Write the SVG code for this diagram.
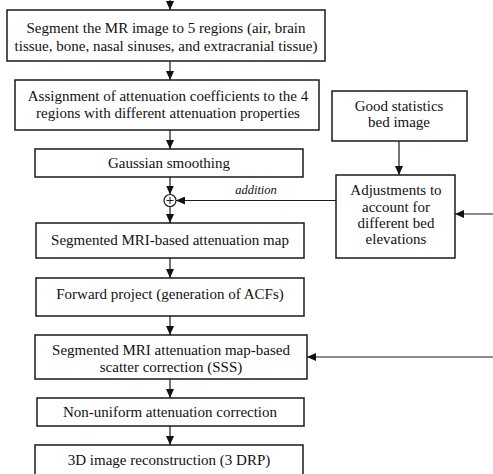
<svg xmlns="http://www.w3.org/2000/svg" width="493" height="474" viewBox="0 0 493 474">
<defs>
<marker id="ah" markerUnits="userSpaceOnUse" markerWidth="10" markerHeight="8" refX="9" refY="4" orient="auto">
<path d="M0,0 L9,4 L0,8 Z" fill="#111"/>
</marker>
<style>
.box{fill:#fff;stroke:#1a1a1a;stroke-width:1.5}
.t{font-family:'Liberation Serif','Times New Roman',serif;font-size:15px;fill:#111;text-anchor:middle}
.c{stroke:#1a1a1a;stroke-width:1.2;fill:none}
.a{marker-end:url(#ah)}
.it{font-family:'Liberation Serif','Times New Roman',serif;font-size:12.5px;font-style:italic;fill:#111;text-anchor:middle}
</style>
</defs>
<rect width="493" height="474" fill="#fff"/>
<g id="connectors">
<line class="c a" x1="170" y1="0" x2="170" y2="10"/>
<line class="c a" x1="170" y1="61" x2="170" y2="80"/>
<line class="c a" x1="170" y1="130" x2="170" y2="149"/>
<line class="c a" x1="170" y1="177" x2="170" y2="194.5"/>
<line class="c a" x1="170" y1="206.5" x2="170" y2="223"/>
<line class="c a" x1="170" y1="258" x2="170" y2="278"/>
<line class="c a" x1="170" y1="316" x2="170" y2="335"/>
<line class="c a" x1="170" y1="379" x2="170" y2="398"/>
<line class="c a" x1="170" y1="426" x2="170" y2="445"/>
<line class="c a" x1="399" y1="141" x2="399" y2="175"/>
<line class="c a" x1="336" y1="200.5" x2="176" y2="200.5"/>
<line class="c a" x1="493" y1="214" x2="455" y2="214"/>
<line class="c a" x1="493" y1="357" x2="307" y2="357"/>
<text class="it" x="256" y="194">addition</text>
</g>
<g id="n1"><rect class="box" x="7" y="10" width="318" height="51"/>
<text class="t" x="166" y="33">Segment the MR image to 5 regions (air, brain</text>
<text class="t" x="166" y="51">tissue, bone, nasal sinuses, and extracranial tissue)</text></g>
<g id="n2"><rect class="box" x="15" y="80" width="304" height="50"/>
<text class="t" x="168" y="101">Assignment of attenuation coefficients to the 4</text>
<text class="t" x="168" y="118">regions with different attenuation properties</text></g>
<g id="n3"><rect class="box" x="35" y="149" width="268" height="28"/>
<text class="t" x="169" y="168">Gaussian smoothing</text></g>
<g id="sum"><circle cx="170" cy="200.5" r="6" fill="#fff" stroke="#1a1a1a" stroke-width="1.2"/>
<path d="M166.5,200.5 H173.5 M170,197 V204" stroke="#1a1a1a" stroke-width="1"/></g>
<g id="n4"><rect class="box" x="36" y="223" width="268" height="35"/>
<text class="t" x="170" y="245">Segmented MRI-based attenuation map</text></g>
<g id="n5"><rect class="box" x="36" y="278" width="268" height="38"/>
<text class="t" x="170" y="299">Forward project (generation of ACFs)</text></g>
<g id="n6"><rect class="box" x="35" y="335" width="272" height="44"/>
<text class="t" x="171" y="355">Segmented MRI attenuation map-based</text>
<text class="t" x="171" y="372">scatter correction (SSS)</text></g>
<g id="n7"><rect class="box" x="37" y="398" width="267" height="28"/>
<text class="t" x="170" y="417">Non-uniform attenuation correction</text></g>
<g id="n8"><rect class="box" x="35" y="445" width="268" height="40"/>
<text class="t" x="169" y="465">3D image reconstruction (3 DRP)</text></g>
<g id="n9"><rect class="box" x="332" y="91" width="135" height="50"/>
<text class="t" x="399" y="111">Good statistics</text>
<text class="t" x="399" y="127">bed image</text></g>
<g id="n10"><rect class="box" x="336" y="175" width="119" height="83"/>
<text class="t" x="396" y="195">Adjustments to</text>
<text class="t" x="396" y="212">account for</text>
<text class="t" x="396" y="228">different bed</text>
<text class="t" x="396" y="244">elevations</text></g>
</svg>
